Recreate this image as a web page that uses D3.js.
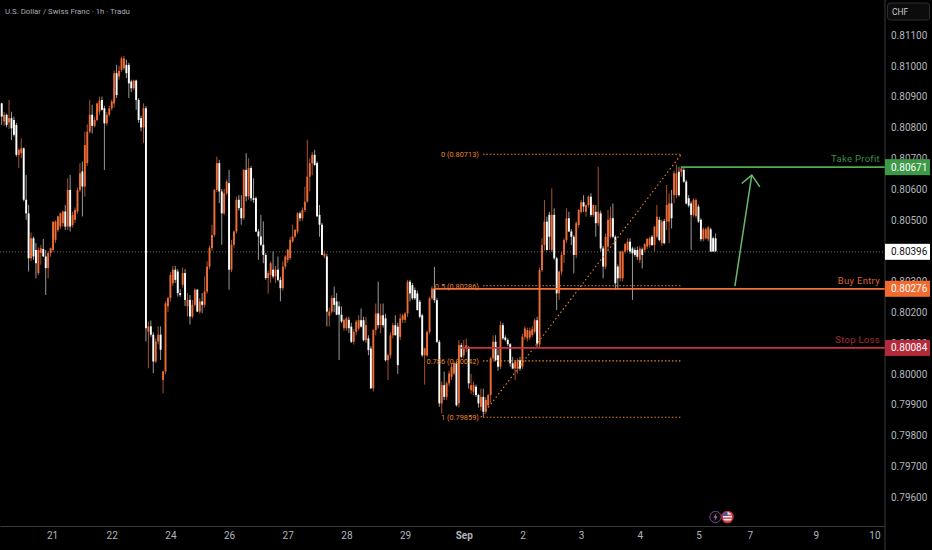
<!DOCTYPE html>
<html>
<head>
<meta charset="utf-8">
<script src="https://d3js.org/d3.v7.min.js"></script>
<style>
  html, body { margin: 0; padding: 0; background: #000; }
  svg { display: block; font-family: Roboto, sans-serif; }
  .axis path { stroke: #3a3a3a; }
  .axis text { fill: #b2b5be; font-size: 10px; font-family: Roboto, sans-serif; }
</style>
</head>
<body>
<div id="chart"></div>
<script>
/* hourly candles, prices in 0.00001 CHF */
var opens = [
80878,80819,80841,80816,80830,80824,80808,80711,80716,80732,
80565,80521,80375,80440,80402,80327,80392,80405,80381,80343,
80392,80402,80435,80467,80478,80489,80527,80478,80597,80483,
80500,80527,80597,80657,80608,80684,80786,80841,80805,80824,
80851,80889,80862,80813,80841,80862,80878,80976,80965,80987,
80992,81003,81003,80949,80927,80952,80889,80830,80800,80862,
80137,80154,80127,80040,80105,80127,79980,80008,80219,80246,
80294,80338,80332,80262,80289,80327,80219,80240,80186,80224,
80273,80202,80235,80224,80267,80348,80408,80451,80597,80684,
80592,80521,80586,80619,80338,80419,80462,80565,80538,80505,
80662,80576,80668,80570,80570,80462,80446,80419,80386,80311,
80321,80338,80316,80338,80305,80278,80348,80370,80376,80430,
80446,80462,80521,80505,80532,80559,80640,80684,80711,80684,
80516,80484,80381,80381,80188,80202,80246,80235,80219,80192,
80148,80148,80175,80153,80104,80136,80147,80174,80174,80109,
80115,80082,79953,80142,80196,80158,80190,80180,80044,80060,
80125,80158,80153,80120,80175,80175,80196,80299,80288,80272,
80261,80234,80190,80060,80060,80136,80245,80277,80239,80104,
79904,79963,79925,79969,79990,80001,80034,79904,80093,80060,
80082,80082,79947,79942,79958,79931,79893,79925,79877,79898,
79931,80050,80104,80060,80023,80158,80118,80110,80096,80034,
80017,80017,80044,80023,80120,80115,80118,80126,80136,80174,
80095,80337,80418,80494,80516,80402,80516,80375,80261,80332,
80386,80434,80505,80462,80445,80386,80483,80526,80557,80526,
80548,80575,80516,80526,80489,80521,80407,80348,80413,80445,
80505,80445,80348,80310,80310,80397,80402,80429,80407,80402,
80402,80370,80404,80402,80413,80418,80445,80418,80445,80500,
80424,80496,80494,80494,80553,80580,80580,80656,80656,80662,
80624,80570,80553,80516,80512,80543,80500,80437,80440,80437,
80469,80440,80440];

var highs = [
80880,80850,80845,80889,80851,80835,80815,80732,80765,80735,
80646,80548,80459,80446,80425,80410,80418,80438,80402,80398,
80410,80495,80498,80513,80524,80530,80548,80635,80646,80527,
80540,80605,80684,80689,80786,80810,80889,80873,80835,80880,
80900,80900,80870,80850,80870,80890,80985,81003,81000,81030,
81032,81020,81010,80955,80955,80955,80895,80838,80878,80870,
80170,80173,80135,80115,80154,80154,80010,80235,80250,80330,
80350,80350,80340,80275,80345,80340,80262,80256,80240,80278,
80275,80245,80262,80316,80365,80416,80484,80600,80705,80695,
80600,80600,80630,80662,80435,80465,80575,80580,80580,80665,
80716,80700,80675,80635,80575,80470,80516,80495,80392,80335,
80365,80397,80350,80381,80315,80365,80385,80405,80445,80484,
80470,80525,80527,80540,80608,80760,80700,80720,80727,80690,
80548,80490,80400,80390,80215,80255,80283,80262,80235,80219,
80180,80185,80185,80165,80145,80175,80190,80212,80185,80185,
80125,80090,80145,80228,80299,80228,80228,80195,80065,80135,
80165,80190,80165,80195,80195,80200,80305,80305,80295,80280,
80270,80240,80195,80085,80140,80250,80285,80347,80245,80110,
79975,80007,79975,80010,80034,80040,80040,80110,80100,80110,
80115,80090,80000,79975,79965,79935,79952,79952,79925,79935,
80055,80125,80125,80080,80170,80165,80125,80115,80100,80055,
80045,80050,80055,80130,80155,80150,80150,80155,80180,80185,
80345,80440,80564,80510,80526,80602,80537,80380,80335,80395,
80440,80537,80526,80470,80450,80495,80535,80565,80580,80550,
80580,80586,80550,80548,80672,80530,80415,80455,80532,80543,
80553,80450,80355,80400,80400,80425,80440,80440,80413,80410,
80413,80415,80410,80425,80440,80445,80450,80480,80548,80510,
80500,80503,80613,80586,80597,80660,80678,80672,80672,80668,
80630,80580,80560,80570,80570,80550,80505,80475,80475,80480,
80475,80445,80456];

var lows = [
80808,80805,80800,80795,80759,80770,80705,80668,80700,80560,
80500,80332,80366,80370,80310,80320,80354,80380,80256,80310,
80380,80395,80425,80460,80470,80478,80467,80467,80462,80475,
80490,80520,80590,80511,80575,80675,80780,80780,80800,80820,
80840,80855,80662,80805,80835,80855,80865,80895,80955,80980,
80985,80960,80895,80915,80920,80857,80815,80787,80749,80105,
80018,80120,80002,80035,80095,80045,79937,80000,80200,80235,
80285,80295,80251,80250,80280,80220,80186,80160,80180,80218,
80200,80195,80197,80215,80260,80340,80400,80445,80590,80554,
80419,80515,80580,80273,80330,80410,80455,80530,80484,80500,
80560,80565,80560,80555,80460,80370,80415,80359,80305,80260,
80295,80310,80295,80300,80235,80270,80340,80360,80370,80425,
80440,80455,80495,80497,80525,80555,80592,80645,80675,80510,
80445,80385,80375,80154,80154,80195,80200,80190,80045,80165,
80140,80140,80132,80100,80095,80125,80140,80150,80105,80100,
80060,79950,79942,80125,80147,80131,80150,80040,79980,80050,
80115,80125,80000,80110,80165,80165,80185,80235,80240,80240,
80205,80180,80055,79965,80055,80130,80240,80230,80100,79893,
79871,79915,79915,79960,79980,79995,79893,79890,80050,80050,
80070,79952,79935,79930,79925,79890,79880,79860,79870,79890,
79905,80045,80040,80010,80015,80110,80105,80090,80023,80015,
79980,80000,80010,80015,80110,80105,80110,80120,80130,80085,
80085,80330,80400,80400,80402,80395,80370,80207,80240,80320,
80360,80425,80460,80418,80326,80375,80475,80520,80525,80510,
80540,80510,80510,80445,80480,80397,80310,80340,80400,80440,
80440,80272,80272,80300,80300,80390,80395,80390,80240,80380,
80370,80360,80342,80395,80405,80410,80415,80397,80440,80430,
80415,80420,80467,80424,80472,80553,80570,80575,80640,80620,
80550,80540,80402,80510,80505,80490,80430,80430,80435,80430,
80396,80396,80396];

var closes = [
80835,80841,80808,80830,80797,80776,80711,80727,80732,80565,
80521,80375,80440,80381,80359,80402,80408,80381,80343,80392,
80408,80494,80494,80511,80521,80527,80478,80597,80478,80516,
80532,80597,80651,80608,80743,80786,80841,80805,80824,80878,
80887,80857,80813,80841,80862,80884,80976,80905,80984,81024,
81024,80976,80943,80927,80952,80889,80824,80800,80862,80148,
80154,80127,80040,80105,80127,80078,80008,80229,80246,80321,
80338,80305,80262,80256,80327,80240,80240,80186,80224,80273,
80202,80235,80224,80267,80348,80408,80451,80597,80684,80592,
80521,80586,80624,80338,80419,80462,80565,80538,80505,80662,
80576,80668,80570,80565,80462,80446,80419,80386,80311,80327,
80359,80316,80338,80305,80278,80348,80381,80403,80435,80446,
80467,80521,80505,80532,80559,80640,80684,80711,80678,80511,
80484,80386,80390,80202,80202,80246,80224,80192,80192,80170,
80175,80180,80148,80104,80136,80169,80174,80153,80109,80158,
80077,79953,80142,80196,80158,80190,80158,80044,80060,80125,
80158,80125,80028,80180,80190,80196,80299,80261,80245,80245,
80207,80185,80060,80082,80136,80245,80277,80239,80104,79904,
79963,79925,79969,80001,80023,80034,79898,80093,80055,80082,
80093,79969,79963,79963,79931,79904,79925,79877,79915,79931,
80050,80104,80044,80023,80158,80115,80110,80096,80034,80017,
80039,80044,80017,80120,80147,80142,80140,80145,80174,80098,
80337,80418,80494,80402,80445,80516,80375,80261,80332,80386,
80434,80505,80462,80445,80386,80489,80532,80557,80543,80548,
80575,80516,80548,80489,80526,80407,80348,80445,80500,80505,
80445,80294,80310,80397,80397,80421,80429,80397,80391,80386,
80380,80407,80386,80421,80438,80440,80418,80478,80510,80434,
80494,80424,80548,80553,80505,80651,80651,80580,80667,80624,
80553,80546,80516,80564,80564,80494,80437,80469,80469,80475,
80397,80397,80398];

/* axes */
var priceTicks = [81100,81000,80900,80800,80700,80600,80500,80400,80300,80200,80100,80000,79900,79800,79700,79600];
var dayBars = [20.6,45,69,93,117,141,165,189,213,237,261,285,306,333,357];
var dayLabels = ["21","22","24","26","27","28","29","Sep","2","3","4","5","7","9","10"];

/* horizontal levels */
var levelNames = ["Take Profit","Buy Entry","Stop Loss"];
var levelPrices = [80671,80276,80084];
var levelStartBars = [277.8,176.8,187.5];
var lastPrice = 80396;

/* fibonacci drawing */
var fibRatios = ["0","0.5","0.786","1"];
var fibPrices = [80713,80286,80042,79859];
var fibBars = [196,278];

/* arrow */
var arrowShaftBars = [299.9,306.8];
var arrowShaftPrices = [80285,80645];
var arrowHeadBars = [302.7,306.8,310.1];
var arrowHeadPrices = [80618,80645,80607];

var width = 932;
var height = 550;
var plotRight = 885;
var plotBottom = 526;

var upColor = "#ee6c35";
var downColor = "#ffffff";
var levelColors = ["#4caf50","#f4703a","#c8323f"];
var levelTextColors = ["#3f8f48","#d9632f","#a52c3a"];
var tagColors = ["#3c9a47","#f26a2e","#b52a3a"];
var fibColor = "#e8862a";

var svg = d3.select("#chart").append("svg")
  .attr("width", width)
  .attr("height", height);

svg.append("rect").attr("width", width).attr("height", height).attr("fill", "#000");

var soft = svg.append("filter").attr("id", "soft");
soft.append("feGaussianBlur").attr("stdDeviation", 0.3);

var x = d3.scaleLinear().domain([-0.7, 361.3]).range([0, plotRight]);
var y = d3.scaleLinear().domain([81100, 79600]).range([35, 497]);

/* title */
svg.append("text")
  .attr("x", 5).attr("y", 14)
  .attr("fill", "#a9abb0")
  .style("font-size", "7.8px")
  .text("U.S. Dollar / Swiss Franc · 1h · Tradu");

/* last price line goes under the candles */
svg.append("line")
  .attr("x1", 0).attr("x2", plotRight)
  .attr("y1", y(lastPrice)).attr("y2", y(lastPrice))
  .attr("stroke", "#9a9a9a")
  .attr("stroke-width", 0.7)
  .attr("stroke-dasharray", "1,2");

/* candles */
var bars = svg.append("g").attr("filter", "url(#soft)");
var candle = bars.selectAll("g")
  .data(closes).enter()
  .append("g");

candle.append("line")
  .attr("x1", (d, i) => x(i)).attr("x2", (d, i) => x(i))
  .attr("y1", (d, i) => y(highs[i]))
  .attr("y2", (d, i) => y(lows[i]))
  .attr("stroke", (d, i) => d >= opens[i] ? "#a8512c" : "#9a9a9a")
  .attr("stroke-width", 1);

candle.append("rect")
  .attr("x", (d, i) => x(i) - 0.95)
  .attr("width", 1.9)
  .attr("y", (d, i) => y(Math.max(opens[i], d)))
  .attr("height", (d, i) => Math.max(1, Math.abs(y(opens[i]) - y(d))))
  .attr("fill", (d, i) => d >= opens[i] ? upColor : downColor);

/* fib retracement */
var fib = svg.append("g");

fib.selectAll("line")
  .data(fibPrices).enter()
  .append("line")
  .attr("x1", x(fibBars[0]) + 2).attr("x2", x(fibBars[1]))
  .attr("y1", d => y(d)).attr("y2", d => y(d))
  .attr("stroke", fibColor)
  .attr("stroke-width", 1.1)
  .attr("stroke-dasharray", "1.5,2");

fib.append("line")
  .attr("x1", x(fibBars[0])).attr("x2", x(fibBars[1]))
  .attr("y1", y(fibPrices[3])).attr("y2", y(fibPrices[0]))
  .attr("stroke", fibColor)
  .attr("stroke-width", 1.1)
  .attr("stroke-dasharray", "1.5,2.6");

fib.selectAll("text")
  .data(fibPrices).enter()
  .append("text")
  .attr("x", x(fibBars[0]) - 2)
  .attr("y", d => y(d) + 3)
  .attr("text-anchor", "end")
  .attr("fill", fibColor)
  .style("font-size", "7.4px")
  .text((d, i) => fibRatios[i] + " (" + (d / 100000).toFixed(5) + ")");

/* take profit, entry and stop levels */
var levels = svg.append("g");

levels.selectAll("line")
  .data(levelPrices).enter()
  .append("line")
  .attr("x1", (d, i) => x(levelStartBars[i])).attr("x2", plotRight)
  .attr("y1", d => y(d)).attr("y2", d => y(d))
  .attr("stroke", (d, i) => levelColors[i])
  .attr("stroke-width", 1.7);

levels.selectAll("text")
  .data(levelPrices).enter()
  .append("text")
  .attr("x", plotRight - 5)
  .attr("y", d => y(d) - 5)
  .attr("text-anchor", "end")
  .attr("fill", (d, i) => levelTextColors[i])
  .style("font-size", "9.5px")
  .style("letter-spacing", "0.3px")
  .text((d, i) => levelNames[i]);

/* arrow */
var arrowLine = d3.line().x(d => x(d[0])).y(d => y(d[1]));

svg.append("path")
  .attr("d", arrowLine(d3.zip(arrowShaftBars, arrowShaftPrices)))
  .attr("fill", "none").attr("stroke", "#66bb6a").attr("stroke-width", 1.5);

svg.append("path")
  .attr("d", arrowLine(d3.zip(arrowHeadBars, arrowHeadPrices)))
  .attr("fill", "none").attr("stroke", "#66bb6a").attr("stroke-width", 1.5);

/* axes */
var xAxis = d3.axisBottom(x)
  .tickValues(dayBars)
  .tickFormat((d, i) => dayLabels[i])
  .tickSize(0)
  .tickPadding(6);

var gx = svg.append("g")
  .attr("class", "x axis")
  .attr("transform", `translate(0, ${plotBottom})`)
  .call(xAxis);

gx.selectAll("text")
  .style("font-weight", (d, i) => dayLabels[i] == "Sep" ? "bold" : "normal");

var yAxis = d3.axisRight(y)
  .tickValues(priceTicks)
  .tickFormat(d => (d / 100000).toFixed(5))
  .tickSize(0)
  .tickPadding(6);

var gy = svg.append("g")
  .attr("class", "y axis")
  .attr("transform", `translate(${plotRight}, 0)`)
  .call(yAxis);

gy.select(".domain").remove();

svg.append("line")
  .attr("x1", plotRight).attr("x2", plotRight)
  .attr("y1", 0).attr("y2", height)
  .attr("stroke", "#3a3a3a");

/* price tags on the axis */
function tag(price, fill, textFill) {
  svg.append("rect")
    .attr("x", plotRight).attr("y", y(price) - 8)
    .attr("width", 45).attr("height", 16)
    .attr("fill", fill);
  svg.append("text")
    .attr("x", plotRight + 6).attr("y", y(price) + 3.5)
    .attr("fill", textFill)
    .style("font-size", "10px")
    .text((price / 100000).toFixed(5));
}

levelPrices.forEach((d, i) => tag(d, tagColors[i], "#fff"));
tag(lastPrice, "#fff", "#111");

/* currency button */
svg.append("rect")
  .attr("x", 887.5).attr("y", 3)
  .attr("width", 42).attr("height", 17)
  .attr("rx", 3)
  .attr("fill", "#0c0c0c")
  .attr("stroke", "#2e2e2e");

svg.append("text")
  .attr("x", 892).attr("y", 15)
  .attr("fill", "#c8c8c8")
  .style("font-size", "8.5px")
  .text("CHF");

/* event icons above the time axis */
svg.append("circle")
  .attr("cx", 715.5).attr("cy", 517).attr("r", 5.7)
  .attr("fill", "#0a0a0a").attr("stroke", "#7b3f98").attr("stroke-width", 1);

svg.append("path")
  .attr("d", "M716.5,513 L713.5,517.5 L715.5,517.5 L714.5,521 L717.5,516.5 L715.5,516.5 Z")
  .attr("fill", "#9b7fb0");

var clip = svg.append("clipPath").attr("id", "flag");
clip.append("circle").attr("cx", 727.5).attr("cy", 517).attr("r", 5);

var flag = svg.append("g").attr("clip-path", "url(#flag)");
flag.append("rect").attr("x", 722).attr("y", 511).attr("width", 11).attr("height", 12).attr("fill", "#eee");
flag.append("rect").attr("x", 722).attr("y", 514.5).attr("width", 11).attr("height", 1.3).attr("fill", "#d33");
flag.append("rect").attr("x", 722).attr("y", 517.5).attr("width", 11).attr("height", 1.3).attr("fill", "#d33");
flag.append("rect").attr("x", 722).attr("y", 520.5).attr("width", 11).attr("height", 1.3).attr("fill", "#d33");
flag.append("rect").attr("x", 722).attr("y", 511).attr("width", 5.5).attr("height", 5).attr("fill", "#3559a8");

svg.append("circle")
  .attr("cx", 727.5).attr("cy", 517).attr("r", 5.7)
  .attr("fill", "none").attr("stroke", "#c8323f").attr("stroke-width", 1.2);
</script>
</body>
</html>
